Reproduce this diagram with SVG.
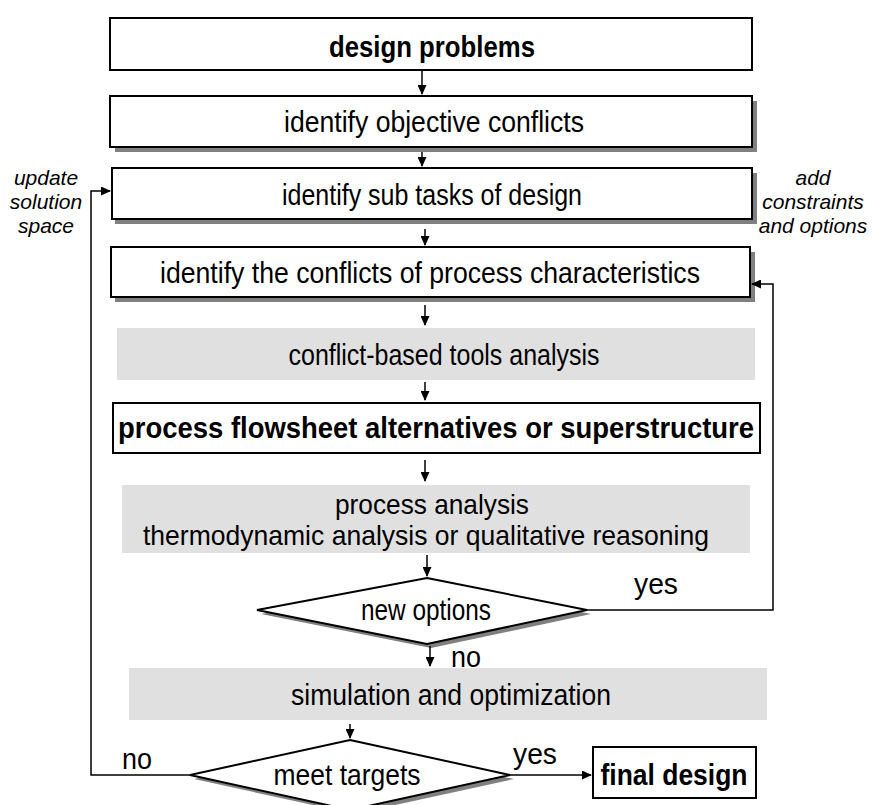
<svg xmlns="http://www.w3.org/2000/svg" width="874" height="805" viewBox="0 0 874 805">
  <defs>
    <marker id="arrow" markerWidth="10" markerHeight="9" refX="9" refY="4.5" orient="auto" markerUnits="userSpaceOnUse">
      <path d="M0,0 L10,4.5 L0,9 Z" fill="#000"/>
    </marker>
    <style>
      .box { fill: #fff; stroke: #000; stroke-width: 2; }
      .shadow { fill: #808080; }
      .gray { fill: #e0e0e0; }
      .t { font-family: "Liberation Sans", Arial, sans-serif; font-size: 30px; fill: #000; text-anchor: middle; }
      .b { font-weight: bold; font-size: 29px; }
      .sm { font-size: 28px; }
      .it { font-family: "Liberation Sans", Arial, sans-serif; font-size: 21px; font-style: italic; fill: #000; text-anchor: middle; }
      .edge { fill: none; stroke: #000; stroke-width: 1.5; }
    </style>
  </defs>
  <rect width="874" height="805" fill="#fff"/>

  <!-- process steps -->
  <g id="design-problems">
    <rect class="box" x="110" y="18" width="642" height="52"/>
    <text class="t b" x="432" y="57" textLength="206" lengthAdjust="spacingAndGlyphs">design problems</text>
  </g>
  <g id="objective-conflicts">
    <rect class="shadow" x="115" y="101" width="642" height="51"/>
    <rect class="box" x="110" y="96" width="642" height="51"/>
    <text class="t" x="434" y="132" textLength="300" lengthAdjust="spacingAndGlyphs">identify objective conflicts</text>
  </g>
  <g id="sub-tasks">
    <rect class="shadow" x="115" y="173" width="642" height="51"/>
    <rect class="box" x="112" y="168" width="640" height="51"/>
    <text class="t" x="432" y="205" textLength="300" lengthAdjust="spacingAndGlyphs">identify sub tasks of design</text>
  </g>
  <g id="process-characteristics">
    <rect class="shadow" x="115" y="252" width="640" height="50"/>
    <rect class="box" x="111" y="247" width="639" height="50"/>
    <text class="t" x="430" y="283" textLength="540" lengthAdjust="spacingAndGlyphs">identify the conflicts of process characteristics</text>
  </g>
  <g id="tools-analysis">
    <rect class="gray" x="117" y="328" width="638" height="52"/>
    <text class="t" x="444" y="365" textLength="311" lengthAdjust="spacingAndGlyphs">conflict-based tools analysis</text>
  </g>
  <g id="flowsheet-alternatives">
    <rect class="box" x="113" y="403" width="647" height="50"/>
    <text class="t b" x="436" y="438" textLength="636" lengthAdjust="spacingAndGlyphs">process flowsheet alternatives or superstructure</text>
  </g>
  <g id="process-analysis">
    <rect class="gray" x="122" y="485" width="628" height="68"/>
    <text class="t sm" x="432" y="514" textLength="194" lengthAdjust="spacingAndGlyphs">process analysis</text>
    <text class="t sm" x="426" y="545" textLength="566" lengthAdjust="spacingAndGlyphs">thermodynamic analysis or qualitative reasoning</text>
  </g>
  <g id="new-options">
    <polygon class="shadow" points="431,582 591,614 431,648 261,614"/>
    <polygon class="box" points="427,578 587,610 427,644 257,610"/>
    <text class="t" x="426" y="620" textLength="130" lengthAdjust="spacingAndGlyphs">new options</text>
  </g>
  <g id="simulation">
    <rect class="gray" x="129" y="668" width="638" height="52"/>
    <text class="t" x="451" y="705" textLength="320" lengthAdjust="spacingAndGlyphs">simulation and optimization</text>
  </g>
  <g id="meet-targets">
    <polygon class="shadow" points="354,744 514,779 354,814 194,779"/>
    <polygon class="box" points="350,740 510,775 350,810 190,775"/>
    <text class="t" x="347" y="785" textLength="147" lengthAdjust="spacingAndGlyphs">meet targets</text>
  </g>
  <g id="final-design">
    <rect class="box" x="593" y="747" width="163" height="51"/>
    <text class="t b" x="674" y="785" textLength="147" lengthAdjust="spacingAndGlyphs">final design</text>
  </g>

  <!-- side notes -->
  <g id="update-note">
    <text class="it" x="46" y="185">update</text>
    <text class="it" x="46" y="209">solution</text>
    <text class="it" x="46" y="233">space</text>
  </g>
  <g id="constraints-note">
    <text class="it" x="813" y="185">add</text>
    <text class="it" x="813" y="209">constraints</text>
    <text class="it" x="813" y="233">and options</text>
  </g>

  <!-- connectors -->
  <g id="connectors">
    <line class="edge" x1="422" y1="70" x2="422" y2="94" marker-end="url(#arrow)"/>
    <line class="edge" x1="422" y1="152" x2="422" y2="166" marker-end="url(#arrow)"/>
    <line class="edge" x1="425" y1="229" x2="425" y2="245" marker-end="url(#arrow)"/>
    <line class="edge" x1="425" y1="305" x2="425" y2="325" marker-end="url(#arrow)"/>
    <line class="edge" x1="425" y1="382" x2="425" y2="400" marker-end="url(#arrow)"/>
    <line class="edge" x1="425" y1="460" x2="425" y2="481" marker-end="url(#arrow)"/>
    <line class="edge" x1="427" y1="555" x2="427" y2="576" marker-end="url(#arrow)"/>
    <line class="edge" x1="430" y1="646" x2="430" y2="666" marker-end="url(#arrow)"/>
    <line class="edge" x1="350" y1="724" x2="350" y2="738" marker-end="url(#arrow)"/>
    <polyline class="edge" points="587,610 773,610 773,284 752,284" marker-end="url(#arrow)"/>
    <polyline class="edge" points="190,775 91,775 91,191 110,191" marker-end="url(#arrow)"/>
    <line class="edge" x1="510" y1="775" x2="591" y2="775" marker-end="url(#arrow)"/>
  </g>

  <!-- branch labels -->
  <g id="labels">
    <text class="t" x="656" y="594" textLength="44" lengthAdjust="spacingAndGlyphs">yes</text>
    <text class="t" x="466" y="667" textLength="30" lengthAdjust="spacingAndGlyphs">no</text>
    <text class="t" x="137" y="769" textLength="30" lengthAdjust="spacingAndGlyphs">no</text>
    <text class="t" x="535" y="764" textLength="44" lengthAdjust="spacingAndGlyphs">yes</text>
  </g>
</svg>
